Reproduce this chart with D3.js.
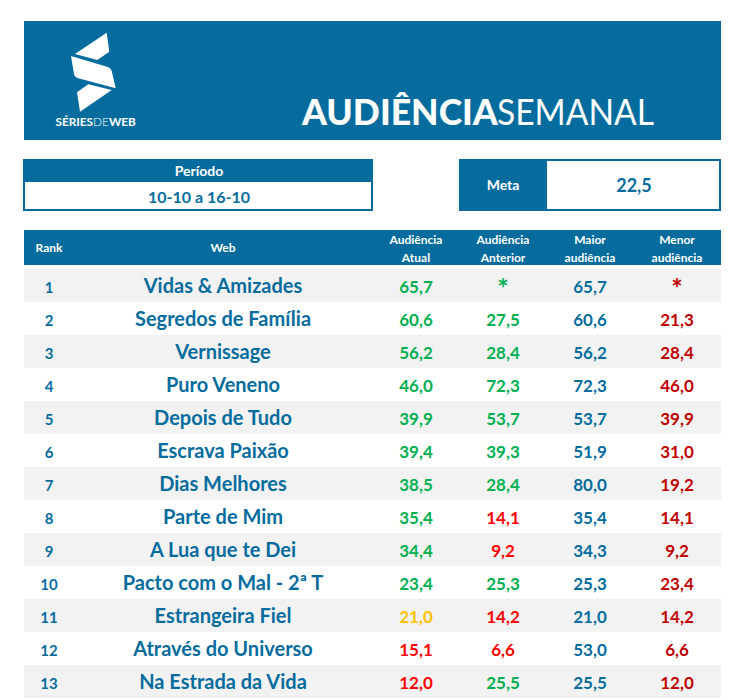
<!DOCTYPE html>
<html>
<head>
<meta charset="utf-8">
<script src="https://cdn.jsdelivr.net/npm/d3@7"></script>
<style>
html, body { margin: 0; padding: 0; background: #fff; }
svg { display: block; font-family: Lato, "Open Sans", sans-serif; }
</style>
</head>
<body>
<svg width="748" height="700"></svg>
<script>
// dados da tabela
const ranks = [1, 2, 3, 4, 5, 6, 7, 8, 9, 10, 11, 12, 13];
const webs = ["Vidas & Amizades", "Segredos de Família", "Vernissage", "Puro Veneno", "Depois de Tudo",
    "Escrava Paixão", "Dias Melhores", "Parte de Mim", "A Lua que te Dei", "Pacto com o Mal - 2ª T",
    "Estrangeira Fiel", "Através do Universo", "Na Estrada da Vida"];
const atual = [65.7, 60.6, 56.2, 46.0, 39.9, 39.4, 38.5, 35.4, 34.4, 23.4, 21.0, 15.1, 12.0];
const anterior = [null, 27.5, 28.4, 72.3, 53.7, 39.3, 28.4, 14.1, 9.2, 25.3, 14.2, 6.6, 25.5];
const maior = [65.7, 60.6, 56.2, 72.3, 53.7, 51.9, 80.0, 35.4, 34.3, 25.3, 21.0, 53.0, 25.5];
const menor = [null, 21.3, 28.4, 46.0, 39.9, 31.0, 19.2, 14.1, 9.2, 23.4, 14.2, 6.6, 12.0];
const meta = 22.5;
const periodo = "10-10 a 16-10";
const colunas = ["rank", "web", "atual", "anterior", "maior", "menor"];
const cabecalhos = [["Rank"], ["Web"], ["Audiência", "Atual"], ["Audiência", "Anterior"], ["Maior", "audiência"], ["Menor", "audiência"]];

const blue = "#066c9e", green = "#00b050", amber = "#ffc000", red = "#ff0000", darkRed = "#c00000";
const svg = d3.select("svg");

const fmt = v => v === null ? "*" : v.toFixed(1).replace(".", ",");
// cor conforme a meta
const corMeta = v => {
    if (v === null || v >= meta) return green;
    return v >= 20 ? amber : red;
};

// posicoes
const x = d3.scaleOrdinal().domain(colunas).range([49, 223, 416, 503, 590, 677]);
const y = d3.scaleBand().domain(ranks).range([269, 698]);

function txt(parent, text, px, py, size, fill, weight) {
    return parent.append("text")
        .attr("x", px).attr("y", py)
        .attr("text-anchor", "middle")
        .attr("font-size", size)
        .attr("font-weight", weight || 700)
        .attr("fill", fill)
        .text(text);
}

// banner
svg.append("rect").attr("x", 24).attr("y", 21).attr("width", 697).attr("height", 119).attr("fill", blue);

const logo = [
    "M106.7,32.7L109.3,51.7L97.3,60L75,54Z",
    "M71,56L107,66.7Q111,68 111.7,71L115.7,88.3L78.3,78.3Q74.5,77 74,74Z",
    "M88.3,84.3L111.7,90L80,111.7L77,92.3Z"
];
svg.append("g").selectAll("path").data(logo).join("path").attr("d", d => d).attr("fill", "#fff");

const logoTxt = svg.append("text").attr("x", 55.5).attr("y", 126).attr("font-size", 11.8).attr("fill", "#fff").attr("font-weight", 700);
logoTxt.append("tspan").text("SÉRIES");
logoTxt.append("tspan").attr("font-weight", 300).text("DE");
logoTxt.append("tspan").text("WEB");

svg.append("text").attr("x", 302).attr("y", 125).attr("font-size", 35.6).attr("font-weight", 900).attr("fill", "#fff").text("AUDIÊNCIA");
svg.append("text").attr("x", 497).attr("y", 125).attr("font-size", 37).attr("font-weight", 400).attr("fill", "#fff")
    .attr("textLength", 157).attr("lengthAdjust", "spacingAndGlyphs").text("SEMANAL");

// periodo
svg.append("rect").attr("x", 24).attr("y", 160).attr("width", 348).attr("height", 50).attr("fill", "#fff").attr("stroke", blue).attr("stroke-width", 2);
svg.append("rect").attr("x", 23).attr("y", 159).attr("width", 350).attr("height", 23).attr("fill", blue);
txt(svg, "Período", 199, 176, 14, "#fff", 700);
txt(svg, periodo, 199, 203, 16, blue);

// meta
svg.append("rect").attr("x", 460).attr("y", 160).attr("width", 260).attr("height", 50).attr("fill", "#fff").attr("stroke", blue).attr("stroke-width", 2);
svg.append("rect").attr("x", 459).attr("y", 159).attr("width", 88).attr("height", 52).attr("fill", blue);
txt(svg, "Meta", 503, 190, 14, "#fff");
txt(svg, fmt(meta), 634, 192, 18, blue);

// cabecalho
svg.append("rect").attr("x", 24).attr("y", 230).attr("width", 697).attr("height", 35).attr("fill", blue);
cabecalhos.forEach((linhas, i) => {
    linhas.forEach((l, j) => {
        const py = linhas.length === 1 ? 252 : 244 + j * 18;
        txt(svg, l, x(colunas[i]), py, 12, "#fff");
    });
});

// linhas da tabela
const rows = svg.append("g").selectAll("g").data(ranks).join("g")
    .attr("transform", d => `translate(0,${y(d)})`);

rows.append("rect")
    .attr("x", 24).attr("width", 697)
    .attr("height", y.bandwidth())
    .attr("fill", (d, i) => i % 2 === 0 ? "#f2f2f2" : "#fff");

const base = 24;
// asterisco maior e mais alto que os numeros
function valor(g, v, col, cor) {
    if (v === null) txt(g, "*", x(col), base + 5, 27, cor);
    else txt(g, fmt(v), x(col), base, 17, cor);
}
rows.each(function (d, i) {
    const g = d3.select(this);
    txt(g, d, x("rank"), base, 15, blue);
    txt(g, webs[i], x("web"), base, 20, blue);
    valor(g, atual[i], "atual", corMeta(atual[i]));
    valor(g, anterior[i], "anterior", corMeta(anterior[i]));
    valor(g, maior[i], "maior", blue);
    valor(g, menor[i], "menor", darkRed);
});
</script>
</body>
</html>
